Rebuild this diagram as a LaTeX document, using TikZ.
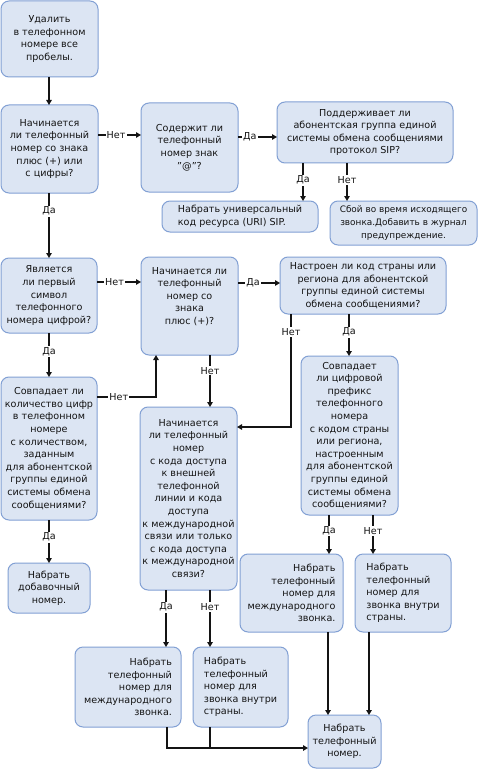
\documentclass[tikz,border=0pt]{standalone}
\usepackage{fontspec}
\setmainfont{DejaVu Sans}
\usetikzlibrary{arrows.meta}
\definecolor{boxfill}{RGB}{220,229,243}
\definecolor{boxdraw}{RGB}{130,160,212}
\definecolor{inkc}{RGB}{20,20,20}
\newcommand\mybox[7]{%
  \node[box,#6,minimum width={#4pt-#2pt},minimum height={#5pt-#3pt}]
    (#1) at ({(#2+#4)/2},{(#3+#5)/2}) {#7};}
\begin{document}
\begin{tikzpicture}[x=1pt,y=-1pt,
  box/.style={draw=boxdraw,fill=boxfill,line width=1pt,rounded corners=8pt,
    inner sep=0pt,outer sep=0pt,align=center,text=inkc,
    font=\fontsize{9.6}{12.6}\selectfont},
  arr/.style={line width=1.3pt,draw=inkc,-{Triangle[width=5.5pt,length=5pt]}},
  ln/.style={line width=1.3pt,draw=inkc},
  lbl/.style={fill=white,inner sep=1.2pt,text=inkc,font=\fontsize{9.6}{11}\selectfont}]
\useasboundingbox[fill=white] (0,0) rectangle (478,770);

\mybox{b1}{1}{1}{98}{77}{}{Удалить\\в телефонном\\номере все\\пробелы.}
\mybox{b2}{1}{105}{98}{193}{}{Начинается\\ли телефонный\\номер со знака\\плюс (+) или\\с цифры?}
\mybox{b3}{141}{103}{238}{192}{}{Содержит ли\\телефонный\\номер знак\\\char34@\char34?}
\mybox{b4}{277}{102}{453}{163}{}{Поддерживает ли\\абонентская группа единой\\системы обмена сообщениями\\протокол SIP?}
\mybox{b5}{162}{201}{318}{232}{align=left}{Набрать универсальный\\код ресурса (URI) SIP.}
\mybox{b6}{330}{201}{477}{245}{font=\fontsize{8.9}{12.6}\selectfont}{Сбой во время исходящего\\звонка.Добавить в журнал\\предупреждение.}
\mybox{b7}{1}{258}{97}{333}{}{Является\\ли первый\\символ\\телефонного\\номера цифрой?}
\mybox{b8}{141}{257}{238}{355}{}{Начинается ли\\телефонный\\номер со\\знака\\плюс (+)?\\[8pt]}
\mybox{b9}{1}{377}{97}{520}{}{Совпадает ли\\количество цифр\\в телефонном\\номере\\с количеством,\\заданным\\для абонентской\\группы единой\\системы обмена\\сообщениями?}
\mybox{b10}{8}{563}{90}{613}{}{Набрать\\добавочный\\номер.}
\mybox{b11}{280}{257}{446}{314}{}{Настроен ли код страны или\\региона для абонентской\\группы единой системы\\обмена сообщениями?}
\mybox{b12}{140}{407}{237}{590}{}{Начинается\\ли телефонный\\номер\\с кода доступа\\к внешней\\телефонной\\линии и кода\\доступа\\к международной\\связи или только\\с кода доступа\\к международной\\связи?}
\mybox{b13}{301}{356}{398}{515}{}{Совпадает\\ли цифровой\\префикс\\телефонного\\номера\\с кодом страны\\или региона,\\настроенным\\для абонентской\\группы единой\\системы обмена\\сообщениями?}
\mybox{b14}{240}{554}{343}{632}{align=right}{Набрать\\телефонный\\номер для\\международного\\звонка.}
\mybox{b15}{355}{554}{451}{632}{align=left}{Набрать\\телефонный\\номер для\\звонка внутри\\страны.}
\mybox{b16}{75}{647}{181}{727}{align=right}{Набрать\\телефонный\\номер для\\международного\\звонка.}
\mybox{b17}{193}{647}{288}{727}{align=left}{Набрать\\телефонный\\номер для\\звонка внутри\\страны.}
\mybox{b18}{308}{715}{381}{768}{}{Набрать\\телефонный\\номер.}

% helper coordinates
\coordinate (y135) at (0,135);
\coordinate (y137) at (0,137);
\coordinate (y282) at (0,282);
\coordinate (y283) at (0,283);
\coordinate (y397) at (0,397);
\coordinate (y748) at (0,748);
\coordinate (x49) at (49,0);
\coordinate (x303) at (303,0);
\coordinate (x347) at (347,0);
\coordinate (x156) at (156,0);
\coordinate (x210) at (210,0);
\coordinate (x291) at (291,0);
\coordinate (x349) at (349,0);
\coordinate (x329) at (329,0);
\coordinate (x373) at (373,0);
\coordinate (x166) at (166,0);
\coordinate (x167) at (167,0);
\coordinate (x328) at (328,0);
\coordinate (x369) at (369,0);
\coordinate (c427) at (291,427);

\draw[arr] (x49|-b1.south) -- (x49|-b2.north);
\draw[arr] (b2.east|-y135) -- node[lbl,pos=0.42]{Нет} (b3.west|-y135);
\draw[arr] (b3.east|-y137) -- node[lbl,pos=0.3]{Да} (b4.west|-y137);
\draw[arr] (x303|-b4.south) -- node[lbl,pos=0.45]{Да} (x303|-b5.north);
\draw[arr] (x347|-b4.south) -- node[lbl,pos=0.45]{Нет} (x347|-b6.north);
\draw[arr] (x49|-b2.south) -- node[lbl,pos=0.28]{Да} (x49|-b7.north);
\draw[arr] (b7.east|-y282) -- node[lbl,pos=0.4]{Нет} (b8.west|-y282);
\draw[arr] (x49|-b7.south) -- node[lbl,pos=0.43]{Да} (x49|-b9.north);
\draw[arr] (x49|-b9.south) -- node[lbl,pos=0.4]{Да} (x49|-b10.north);
\draw[arr] (b9.east|-y397) -- node[lbl,pos=0.37]{Нет} (x156|-y397) -- (x156|-b8.south);
\draw[arr] (b8.east|-y283) -- node[lbl,pos=0.36]{Да} (b11.west|-y283);
\draw[arr] (x210|-b8.south) -- node[lbl,pos=0.3]{Нет} (x210|-b12.north);
\draw[arr] (x291|-b11.south) -- node[lbl,pos=0.16]{Нет} (c427) -- (b12.east|-c427);
\draw[arr] (x349|-b11.south) -- node[lbl,pos=0.43]{Да} (x349|-b13.north);
\draw[arr] (x329|-b13.south) -- node[lbl,pos=0.41]{Да} (x329|-b14.north);
\draw[arr] (x373|-b13.south) -- node[lbl,pos=0.41]{Нет} (x373|-b15.north);
\draw[arr] (x166|-b12.south) -- node[lbl,pos=0.3]{Да} (x166|-b16.north);
\draw[arr] (x210|-b12.south) -- node[lbl,pos=0.3]{Нет} (x210|-b17.north);
\draw[arr] (x328|-b14.south) -- (x328|-b18.north);
\draw[arr] (x369|-b15.south) -- (x369|-b18.north);
\draw[arr] (x167|-b16.south) -- (x167|-y748) -- (b18.west|-y748);
\draw[ln] (x210|-b17.south) -- (x210|-y748);
\end{tikzpicture}
\end{document}
